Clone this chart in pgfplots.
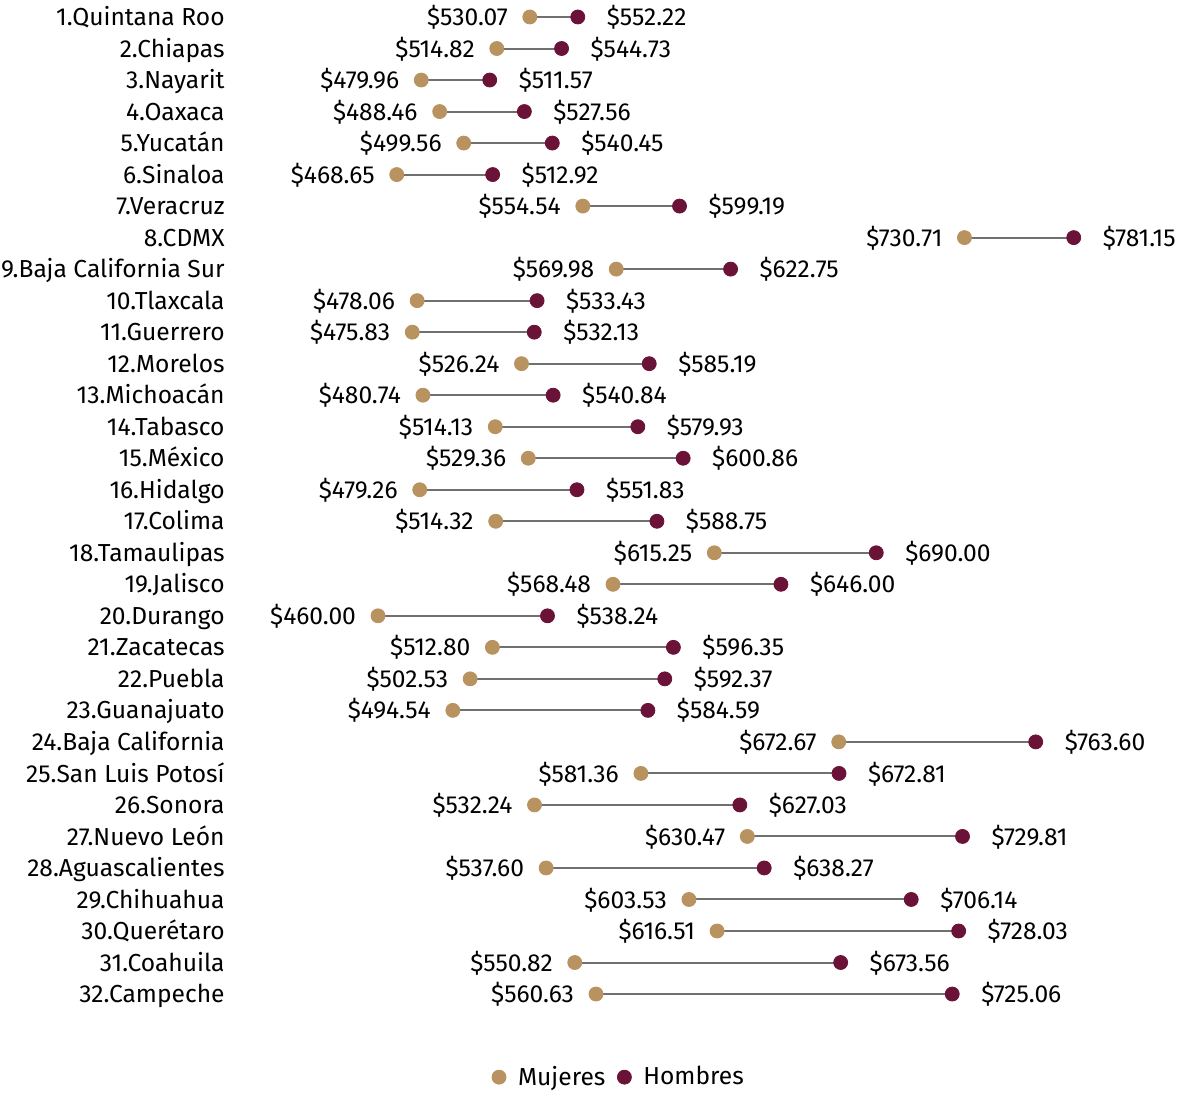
\documentclass[border=0pt]{standalone}
\usepackage{fontspec}
\setmainfont{Fira Sans}
\usepackage{pgfplots}
\usepackage{pgfplotstable}
\pgfplotsset{compat=1.18}
\definecolor{muj}{RGB}{184,146,95}
\definecolor{hom}{RGB}{106,18,56}
\definecolor{barra}{RGB}{112,112,112}

\pgfplotstableread{
y m h
1 530.07 552.22
2 514.82 544.73
3 479.96 511.57
4 488.46 527.56
5 499.56 540.45
6 468.65 512.92
7 554.54 599.19
8 730.71 781.15
9 569.98 622.75
10 478.06 533.43
11 475.83 532.13
12 526.24 585.19
13 480.74 540.84
14 514.13 579.93
15 529.36 600.86
16 479.26 551.83
17 514.32 588.75
18 615.25 690.00
19 568.48 646.00
20 460.00 538.24
21 512.80 596.35
22 502.53 592.37
23 494.54 584.59
24 672.67 763.60
25 581.36 672.81
26 532.24 627.03
27 630.47 729.81
28 537.60 638.27
29 603.53 706.14
30 616.51 728.03
31 550.82 673.56
32 560.63 725.06
}\datos

\begin{document}
\begin{tikzpicture}[etiq/.style={font=\fontsize{12.3}{14}\selectfont, text height=8.6pt, text depth=0pt, inner ysep=0pt}]
\begin{axis}[
    scale only axis,
    width=475.5pt, height=545.5pt,
    xmin=392.6, xmax=831.5,
    ymin=0.461, ymax=35.07,
    y dir=reverse,
    axis line style={draw=none},
    xtick=\empty,
    ytick={1,...,32},
    yticklabels={1.Quintana Roo,2.Chiapas,3.Nayarit,4.Oaxaca,5.Yucatán,6.Sinaloa,7.Veracruz,8.CDMX,9.Baja California Sur,10.Tlaxcala,11.Guerrero,12.Morelos,13.Michoacán,14.Tabasco,15.México,16.Hidalgo,17.Colima,18.Tamaulipas,19.Jalisco,20.Durango,21.Zacatecas,22.Puebla,23.Guanajuato,24.Baja California,25.San Luis Potosí,26.Sonora,27.Nuevo León,28.Aguascalientes,29.Chihuahua,30.Querétaro,31.Coahuila,32.Campeche},
    major tick length=0pt,
    yticklabel style={etiq, anchor=east, inner xsep=0pt, xshift=-3.5pt},
    clip=false,
    /pgf/number format/.cd, fixed, fixed zerofill, precision=2, assume math mode=true,
    /pgfplots/.cd,
    legend columns=2,
    legend style={at={(rel axis cs:0.408,0.0125)}, anchor=center, draw=none, fill=none,
        font=\fontsize{12.3}{14}\selectfont, column sep=4pt, inner sep=0pt},
    legend cell align=left,
    legend image post style={xshift=1pt},
]
\path (rel axis cs:-0.244,0) rectangle (rel axis cs:1,1);
\addplot[barra, line width=1pt, forget plot, only marks, mark=none,
    quiver={u=\thisrow{h}-\thisrow{m}, v=0}]
    table[x=m, y=y] {\datos};
\addplot[only marks, mark=*, mark size=3.5pt, muj, mark options={draw=muj, fill=muj},
    point meta=x,
    nodes near coords={\$\pgfmathprintnumber{\pgfplotspointmeta}},
    nodes near coords style={etiq, anchor=east, xshift=-7.5pt, text=black}]
    table[x=m, y=y] {\datos};
\addlegendentry{Mujeres}
\addplot[only marks, mark=*, mark size=3.5pt, hom, mark options={draw=hom, fill=hom},
    point meta=x,
    nodes near coords={\$\pgfmathprintnumber{\pgfplotspointmeta}},
    nodes near coords style={etiq, anchor=west, xshift=11pt, text=black}]
    table[x=h, y=y] {\datos};
\addlegendentry{Hombres}
\end{axis}
\end{tikzpicture}
\end{document}
